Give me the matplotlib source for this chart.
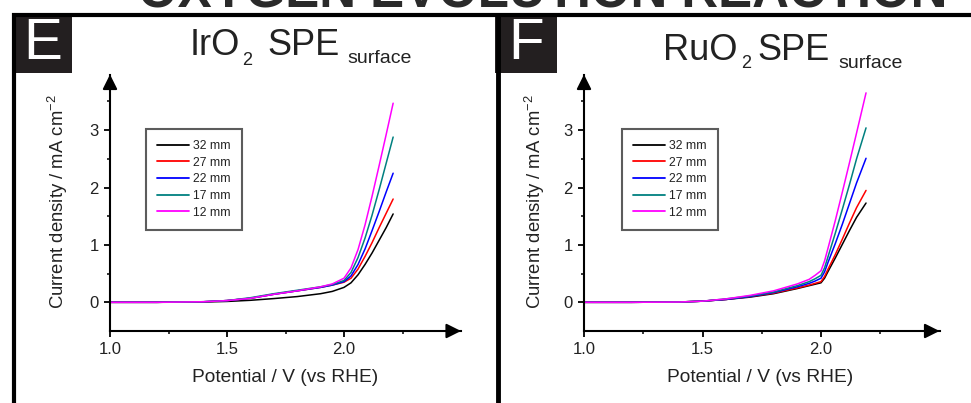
import matplotlib
matplotlib.use("Agg")
import matplotlib.pyplot as plt
from matplotlib.patches import Rectangle
from matplotlib.lines import Line2D

plt.rcParams['font.family'] = ['Liberation Sans', 'DejaVu Sans']
plt.rcParams['mathtext.fontset'] = 'custom'
plt.rcParams['mathtext.rm'] = 'Liberation Sans'
plt.rcParams['mathtext.it'] = 'Liberation Sans:italic'

W, H = 971, 403

# ---------------- data ----------------
labels = ["32 mm", "27 mm", "22 mm", "17 mm", "12 mm"]
colors = ["#000000", "#ff0000", "#0000ff", "#008080", "#ff00ff"]

V_ir = [1.0, 1.2, 1.4, 1.5, 1.6, 1.7, 1.8, 1.9, 1.95, 2.0, 2.03, 2.06, 2.09, 2.12, 2.15, 2.18, 2.21]
ir_32 = [0.0, 0.0, 0.005, 0.015, 0.035, 0.065, 0.10, 0.15, 0.19, 0.26, 0.34, 0.48, 0.66, 0.86, 1.08, 1.30, 1.54]
ir_27 = [0.0, 0.0, 0.01, 0.03, 0.07, 0.14, 0.20, 0.26, 0.30, 0.35, 0.42, 0.58, 0.80, 1.04, 1.30, 1.55, 1.80]
ir_22 = [0.0, 0.0, 0.01, 0.03, 0.07, 0.14, 0.20, 0.26, 0.30, 0.36, 0.46, 0.66, 0.93, 1.25, 1.58, 1.92, 2.25]
ir_17 = [0.0, 0.0, 0.01, 0.03, 0.08, 0.15, 0.21, 0.27, 0.31, 0.38, 0.52, 0.78, 1.12, 1.52, 1.96, 2.42, 2.88]
ir_12 = [0.0, 0.0, 0.01, 0.03, 0.07, 0.14, 0.20, 0.27, 0.32, 0.42, 0.60, 0.92, 1.35, 1.85, 2.38, 2.92, 3.47]

V_ru = [1.0, 1.2, 1.4, 1.5, 1.6, 1.7, 1.8, 1.9, 1.95, 1.975, 2.0, 2.015, 2.03, 2.06, 2.09, 2.12, 2.15, 2.19]
ru_32 = [0.0, 0.0, 0.005, 0.02, 0.05, 0.09, 0.15, 0.24, 0.29, 0.315, 0.34, 0.42, 0.54, 0.77, 1.01, 1.25, 1.48, 1.73]
ru_27 = [0.0, 0.0, 0.005, 0.02, 0.05, 0.10, 0.16, 0.25, 0.30, 0.33, 0.36, 0.45, 0.58, 0.83, 1.10, 1.38, 1.65, 1.95]
ru_22 = [0.0, 0.0, 0.005, 0.02, 0.05, 0.10, 0.17, 0.27, 0.33, 0.37, 0.42, 0.53, 0.70, 1.02, 1.36, 1.72, 2.08, 2.51]
ru_17 = [0.0, 0.0, 0.005, 0.02, 0.06, 0.11, 0.18, 0.29, 0.36, 0.41, 0.47, 0.60, 0.80, 1.20, 1.62, 2.05, 2.50, 3.04]
ru_12 = [0.0, 0.0, 0.005, 0.02, 0.06, 0.12, 0.20, 0.32, 0.40, 0.47, 0.55, 0.72, 0.95, 1.42, 1.92, 2.43, 2.95, 3.65]

x_major = [1.0, 1.5, 2.0]
x_minor = [1.25, 1.75, 2.25]
y_major = [0, 1, 2, 3]
y_minor = [0.5, 1.5, 2.5, 3.5]
x_ticklabels = ["1.0", "1.5", "2.0"]
y_ticklabels = ["0", "1", "2", "3"]

xlabel = "Potential / V (vs RHE)"
ylabel = r"Current density / mA cm$^{-2}$"
heading = "OXYGEN EVOLUTION REACTION"

# ---------------- figure ----------------
fig = plt.figure(figsize=(W / 100, H / 100), dpi=100)
fig.patch.set_facecolor("white")


def fx(px):
    return px / W


def fy(py):
    return 1 - py / H


def make_axes(left_px, right_px, series, V, legend_x):
    top_px, bot_px = 74.5, 331
    ax = fig.add_axes([fx(left_px), fy(bot_px), (right_px - left_px) / W, (bot_px - top_px) / H])
    for vals, c, lab in zip(series, colors, labels):
        ax.plot(V, vals, color=c, lw=1.1, label=lab, solid_capstyle='round', solid_joinstyle='round')
    ax.set_xlim(1.0, 2.5)
    ax.set_ylim(-0.5, 3.97)
    ax.spines['top'].set_visible(False)
    ax.spines['right'].set_visible(False)
    for s in ('left', 'bottom'):
        ax.spines[s].set_linewidth(1.5)
    ax.set_xticks(x_major)
    ax.set_xticklabels(x_ticklabels)
    ax.set_xticks(x_minor, minor=True)
    ax.set_yticks(y_major)
    ax.set_yticklabels(y_ticklabels)
    ax.set_yticks(y_minor, minor=True)
    ax.tick_params(which='major', direction='out', length=4, width=1.3, labelsize=12,
                   pad=4, colors='black', labelcolor='#222222')
    ax.tick_params(which='minor', direction='out', length=2.5, width=1.1)
    # arrow heads
    ax.annotate('', xy=(1.0, 0), xytext=(0.96, 0), xycoords='axes fraction',
                arrowprops=dict(arrowstyle='-|>', mutation_scale=22, lw=1.5,
                                color='black', shrinkA=0, shrinkB=0), annotation_clip=False)
    ax.annotate('', xy=(0, 1.0), xytext=(0, 0.95), xycoords='axes fraction',
                arrowprops=dict(arrowstyle='-|>', mutation_scale=22, lw=1.5,
                                color='black', shrinkA=0, shrinkB=0), annotation_clip=False)
    leg = ax.legend(loc='upper left', bbox_to_anchor=(legend_x, 0.7875), borderaxespad=0,
                    fontsize=8.8, frameon=True, fancybox=False, handlelength=2.6,
                    handletextpad=0.35, labelspacing=0.38, borderpad=0.9)
    leg.get_frame().set_edgecolor('#333333')
    leg.get_frame().set_linewidth(1.5)
    for l in leg.get_lines():
        l.set_linewidth(1.3)
    for t in leg.get_texts():
        t.set_color('#222222')
    return ax


axL = make_axes(110, 461, [ir_32, ir_27, ir_22, ir_17, ir_12], V_ir, 0.103)
axR = make_axes(584, 939.5, [ru_32, ru_27, ru_22, ru_17, ru_12], V_ru, 0.107)

# axis labels
fig.text(fx(285), fy(377), xlabel, fontsize=13.8, ha='center', va='center', color='#222222')
fig.text(fx(760), fy(377), xlabel, fontsize=13.8, ha='center', va='center', color='#222222')
fig.text(fx(58), fy(202), ylabel, fontsize=13.3, ha='center', va='center', rotation=90, color='#222222')
fig.text(fx(535), fy(202), ylabel, fontsize=13.3, ha='center', va='center', rotation=90, color='#222222')

# titles composed of pieces
tc = '#222222'
pieces_L = [("IrO", 190, 55, 26), ("2", 242, 65, 13), ("SPE", 267, 55, 26), ("surface", 347, 63, 14)]
pieces_R = [("RuO", 663, 60, 26), ("2", 741, 68, 13), ("SPE", 757, 60, 26), ("surface", 838, 68, 14)]
for s, x, y, fs in pieces_L + pieces_R:
    fig.text(fx(x), fy(y), s, fontsize=fs, ha='left', va='baseline', color=tc)

# frame lines
box_c = '#231f20'
fig.add_artist(Line2D([fx(12), fx(971)], [fy(15), fy(15)], lw=3, color='black', solid_capstyle='butt'))
fig.add_artist(Line2D([fx(14), fx(14)], [fy(13), fy(403)], lw=3, color='black', solid_capstyle='butt'))
fig.add_artist(Line2D([fx(497.5), fx(497.5)], [fy(13), fy(403)], lw=3.5, color='black', solid_capstyle='butt'))

# panel letter boxes
for (x0, x1, letter) in [(12, 72, "E"), (495, 557, "F")]:
    fig.add_artist(Rectangle((fx(x0), fy(73)), (x1 - x0) / W, 60 / H, transform=fig.transFigure,
                             facecolor=box_c, edgecolor='none'))
    fig.text(fx((x0 + x1) / 2 + 0.5), fy(44), letter, fontsize=42, color='white',
             ha='center', va='center')

# heading, mostly cut off at the top (as in the source figure)
ht = fig.text(fx(543), fy(8), heading, fontsize=40, fontweight='bold', color='#2a2a2a',
              ha='center', va='baseline')
fig.canvas.draw()
w = ht.get_window_extent(fig.canvas.get_renderer()).width
ht.set_fontsize(40 * 810 / w)

fig.savefig("out.png", dpi=100, facecolor='white')
